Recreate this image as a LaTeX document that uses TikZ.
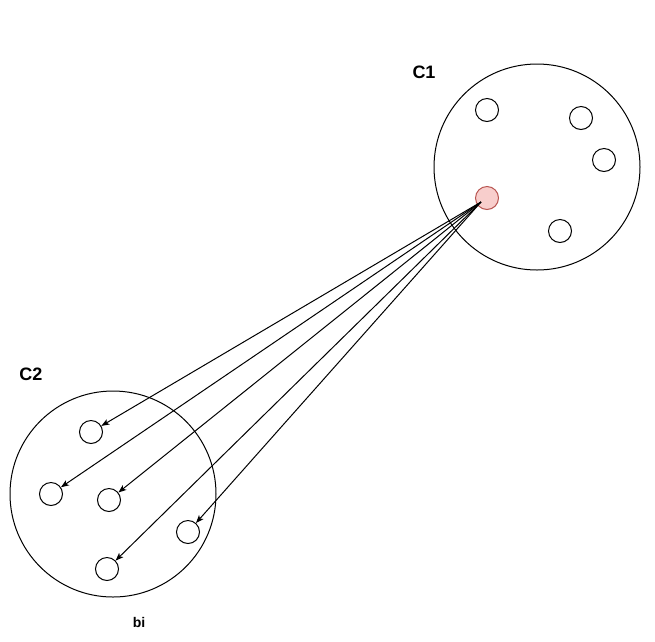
\documentclass[tikz,border=0pt]{standalone}
\usepackage{fontspec}
\setmainfont{Liberation Sans}
\usetikzlibrary{arrows.meta}
\definecolor{redfill}{HTML}{F8CECC}
\definecolor{redline}{HTML}{B85450}
\begin{document}
\begin{tikzpicture}[x=1pt, y=-1pt, line width=1pt, set node/.style={circle,draw,minimum size=206pt,inner sep=0pt}, main node/.style={circle,draw,minimum size=23pt,inner sep=0pt}, red node/.style={main node,fill=redfill,draw=redline}]%
\useasboundingbox (0,0) rectangle (655,641);
\begin{scope}[every node/.style={font=\bfseries\fontsize{18}{20}\selectfont}]
\node (l1) at (424,72) {C1};
\node (l2) at (31,374) {C2};
\node[font=\bfseries\fontsize{14}{16}\selectfont] (l3) at (139,622) {bi};
\end{scope}
\begin{scope}
\node[set node] (c1) at (537,167) {};
\node[set node] (c2) at (113,494) {};
\node[main node] (p1) at (487,110) {};
\node[main node] (p2) at (581,118) {};
\node[main node] (p3) at (604,160) {};
\node[main node] (p4) at (560,231) {};
\node[red node] (p5) at (487,198) {};
\node[main node] (q1) at (91,432) {};
\node[main node] (q2) at (51,494) {};
\node[main node] (q3) at (109,500) {};
\node[main node] (q4) at (188,532) {};
\node[main node] (q5) at (107,569) {};
\coordinate (s) at (481,202);
\end{scope}
\begin{scope}[-{Stealth[length=8pt,width=6pt,inset=2pt]}]
\draw (s) -- (q1);
\draw (s) -- (q2);
\draw (s) -- (q3);
\draw (s) -- (q4);
\draw (s) -- (q5);
\end{scope}
\end{tikzpicture}
\end{document}
